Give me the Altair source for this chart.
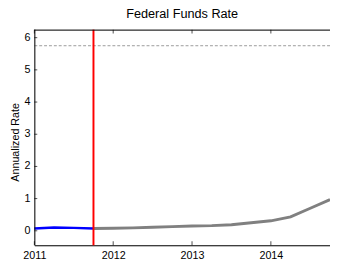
import altair as alt
import pandas as pd

# Data
hist_years = [2011.0, 2011.25, 2011.5, 2011.75]
hist_rate = [0.07, 0.10, 0.09, 0.07]
proj_years = [2011.75, 2012.0, 2012.25, 2012.5, 2012.75, 2013.0, 2013.25, 2013.5, 2013.75, 2014.0, 2014.25, 2014.5, 2014.75]
proj_rate = [0.07, 0.08, 0.09, 0.11, 0.13, 0.15, 0.16, 0.19, 0.25, 0.31, 0.43, 0.70, 0.97]
vline_x = [2011.75]
hline_y = [5.75]
x_ticks = [2011, 2012, 2013, 2014]
y_ticks = [0, 1, 2, 3, 4, 5, 6]
y_title = ["Annualized Rate"]

W, H = 303, 221
xs = alt.Scale(domain=[2011, 2014.75], nice=False, zero=False)
ys = alt.Scale(domain=[-0.45, 6.25], nice=False, zero=False)

hist = pd.DataFrame({"year": hist_years, "rate": hist_rate})
proj = pd.DataFrame({"year": proj_years, "rate": proj_rate})
vdf = pd.DataFrame({"year": vline_x})
hdf = pd.DataFrame({"rate": hline_y})
xt = pd.DataFrame({"year": x_ticks})
yt = pd.DataFrame({"rate": y_ticks, "label": [str(v) for v in y_ticks]})
ttl = pd.DataFrame({"t": y_title})

FONT = "Liberation Sans"

xaxis = alt.Axis(values=x_ticks, format="d", ticks=False, grid=False, domainColor="black",
                 labelFontSize=11, labelColor="black", labelPadding=5, labelFlush=False,
                 labelOverlap=False, labelFont=FONT, title=None)


def X(f):
    return alt.X(f, scale=xs)


def Y(f):
    return alt.Y(f, scale=ys, axis=None)


gray = alt.Chart(proj).mark_line(color="#808080", strokeWidth=3).encode(
    x=alt.X("year:Q", scale=xs, axis=xaxis), y=Y("rate:Q"))

dash = alt.Chart(hdf).mark_rule(color="#999999", strokeDash=[3, 2], strokeWidth=1).encode(
    y=Y("rate:Q"), x=alt.value(0), x2=alt.value(W))

blue = alt.Chart(hist).mark_line(color="#0000ff", strokeWidth=2.5).encode(
    x=X("year:Q"), y=Y("rate:Q"))

red = alt.Chart(vdf).mark_rule(color="#ff0000", strokeWidth=2).encode(
    x=X("year:Q"), y=alt.value(0), y2=alt.value(H))

top = alt.Chart(vdf).mark_rule(color="black", strokeWidth=1).encode(
    x=alt.value(0), x2=alt.value(W), y=alt.value(0.5))
left = alt.Chart(vdf).mark_rule(color="black", strokeWidth=1).encode(
    x=alt.value(0.5), y=alt.value(0), y2=alt.value(H))

tick_bot = alt.Chart(xt).mark_tick(color="black", orient="vertical", size=4, thickness=1).encode(
    x=X("year:Q"), y=alt.value(H - 2))
tick_top = alt.Chart(xt).mark_tick(color="black", orient="vertical", size=4, thickness=1).encode(
    x=X("year:Q"), y=alt.value(2))
tick_y = alt.Chart(yt).mark_tick(color="black", orient="horizontal", size=3, thickness=1).encode(
    y=Y("rate:Q"), x=alt.value(1.5))
ylab = alt.Chart(yt).mark_text(align="right", baseline="middle", fontSize=11, font=FONT,
                               color="black", dx=-4).encode(
    y=Y("rate:Q"), x=alt.value(0), text="label:N")
ytitle = alt.Chart(ttl).mark_text(align="center", baseline="middle", fontSize=11, font=FONT,
                                  color="black", angle=270).encode(
    x=alt.value(-19), y=alt.value(H / 2 + 5), text="t:N")

chart = alt.layer(gray, dash, blue, red, top, left, tick_bot, tick_top, tick_y, ylab, ytitle).properties(
    width=W, height=H,
    title=alt.TitleParams("Federal Funds Rate", fontSize=13, fontWeight="normal",
                          font=FONT, color="black", offset=8, anchor="middle"),
    autosize=alt.AutoSizeParams(type="none"),
    padding={"left": 27, "top": 19, "right": 0, "bottom": 15},
).configure_view(stroke=None).configure(background="white")

chart.save("out.html", embed_options={"renderer": "svg", "actions": False})
